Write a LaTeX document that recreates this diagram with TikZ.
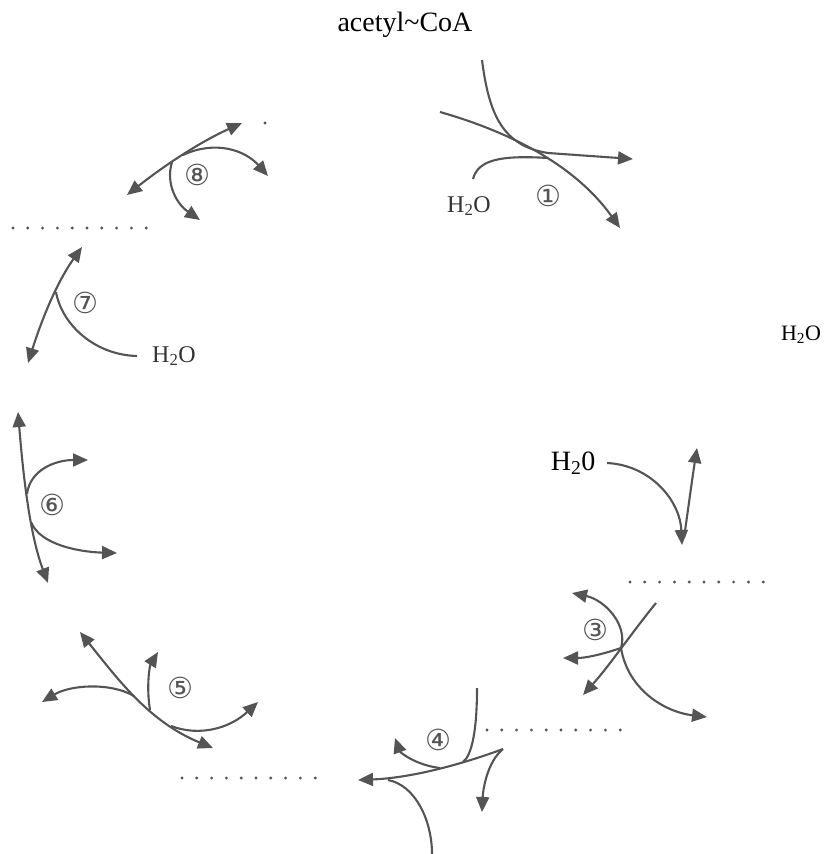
\documentclass[tikz,border=0pt]{standalone}
\usepackage{fontspec}
\setmainfont{Liberation Serif}
\newfontfamily\circfont{DejaVu Sans}
\usetikzlibrary{arrows.meta}
\definecolor{inkgray}{HTML}{545454}
\tikzstyle{rxn}=[draw=inkgray,line width=2.1pt]
\tikzstyle{num}=[text=inkgray,font=\circfont\fontsize{29}{29}\selectfont,inner sep=0pt]
\tikzstyle{water}=[text=black!80,font=\fontsize{24}{24}\selectfont,inner sep=1pt]

\begin{document}
\begin{tikzpicture}[x=1pt,y=-1pt,>={Triangle[length=15pt,width=13pt]}]
  \useasboundingbox (0,0) rectangle (828,854);
  % labels
  \node (acetyl) [font=\fontsize{28}{28}\selectfont] at (405,25) {acetyl\textasciitilde CoA};
  \node (h2oR) [font=\fontsize{22}{22}\selectfont] at (801,335) {H\textsubscript{2}O};
  \node (h2oB) [font=\fontsize{28}{28}\selectfont,anchor=east] at (599,463) {H\textsubscript{2}0};
  \node (h2oA) [water] at (469,206) {H\textsubscript{2}O};
  \node (h2oG) [water,anchor=west] at (151,356) {H\textsubscript{2}O};
  % step numbers
  \node (n1) [num] at (548,196) {①};
  \node (n3) [num] at (595,630) {③};
  \node (n4) [num] at (438,740) {④};
  \node (n5) [num] at (180,688) {⑤};
  \node (n6) [num] at (52,505) {⑥};
  \node (n7) [num] at (85,303) {⑦};
  \node (n8) [num] at (197,175) {⑧};
  % dotted separators
  \foreach \y/\x in {228/13, 582/630, 730/487, 778/182}
    \foreach \i in {0,...,9}
      \fill[inkgray] (\x+14.8*\i,\y) circle (1.6);
  \fill[inkgray] (265,123) circle (1.6);

  % step 1
  \coordinate (a1) at (482,60);
  \coordinate (b1) at (440,112);
  \coordinate (w1) at (473,179);
  \draw[rxn,->] (a1) .. controls (489,115) and (503,146) .. (548,153) -- (633,159);
  \draw[rxn,->] (b1) .. controls (510,132) and (575,165) .. (620,228);
  \draw[rxn] (w1) .. controls (478,160) and (500,155) .. (548,158);

  % step 2
  \coordinate (m2) at (684,538);
  \draw[rxn,->] ([xshift=8pt]h2oB.east) .. controls (650,465) and (680,500) .. (682,545);
  \draw[rxn,->] (m2) .. controls (688,510) and (692,480) .. (697,448);

  % step 3
  \coordinate (a3) at (656,603);
  \coordinate (x3) at (621,648);
  \draw[rxn,->] (a3) .. controls (630,635) and (610,665) .. (583,695);
  \draw[rxn,->] (x3) .. controls (628,625) and (605,600) .. (572,593);
  \draw[rxn,->] (x3) .. controls (600,655) and (585,658) .. (563,658);
  \draw[rxn,->] (x3) .. controls (628,690) and (665,712) .. (707,717);

  % step 4
  \coordinate (c4) at (503,749);
  \coordinate (t4) at (477,688);
  \coordinate (j4) at (440,768);
  \coordinate (k4) at (388,780);
  \draw[rxn,->] (c4) .. controls (460,765) and (410,778) .. (358,780);
  \draw[rxn] (t4) .. controls (477,730) and (472,755) .. (463,762);
  \draw[rxn,->] (j4) .. controls (415,765) and (400,752) .. (395,738);
  \draw[rxn,->] (c4) .. controls (487,762) and (483,790) .. (482,812);
  \draw[rxn] (k4) .. controls (415,785) and (432,820) .. (432,854);

  % step 5
  \coordinate (a5) at (80,632);
  \coordinate (j5) at (134,696);
  \coordinate (u5) at (150,710);
  \coordinate (r5) at (171,726);
  \draw[rxn,<->] (a5) .. controls (120,682) and (150,722) .. (213,748);
  \draw[rxn,->] (j5) .. controls (110,682) and (70,685) .. (42,702);
  \draw[rxn,->] (u5) .. controls (146,685) and (150,665) .. (158,652);
  \draw[rxn,->] (r5) .. controls (200,737) and (230,728) .. (258,702);

  % step 6
  \coordinate (a6) at (18,412);
  \coordinate (u6) at (27,494);
  \coordinate (l6) at (31,522);
  \draw[rxn,<->] (a6) .. controls (22,460) and (28,530) .. (48,583);
  \draw[rxn,->] (u6) .. controls (30,470) and (55,460) .. (88,460);
  \draw[rxn,->] (l6) .. controls (40,545) and (80,552) .. (117,553);

  % step 7
  \coordinate (a7) at (28,363);
  \coordinate (j7) at (56,292);
  \draw[rxn,<->] (a7) .. controls (40,325) and (55,285) .. (82,247);
  \draw[rxn] (j7) .. controls (62,325) and (95,355) .. ([xshift=-14pt]h2oG.west);

  % step 8
  \coordinate (a8) at (127,195);
  \coordinate (r8) at (183,155);
  \coordinate (d8) at (172,162);
  \draw[rxn,<->] (a8) .. controls (165,165) and (200,142) .. (242,123);
  \draw[rxn,->] (r8) .. controls (215,140) and (245,150) .. (268,176);
  \draw[rxn,->] (d8) .. controls (165,185) and (178,205) .. (200,220);
\end{tikzpicture}
\end{document}
